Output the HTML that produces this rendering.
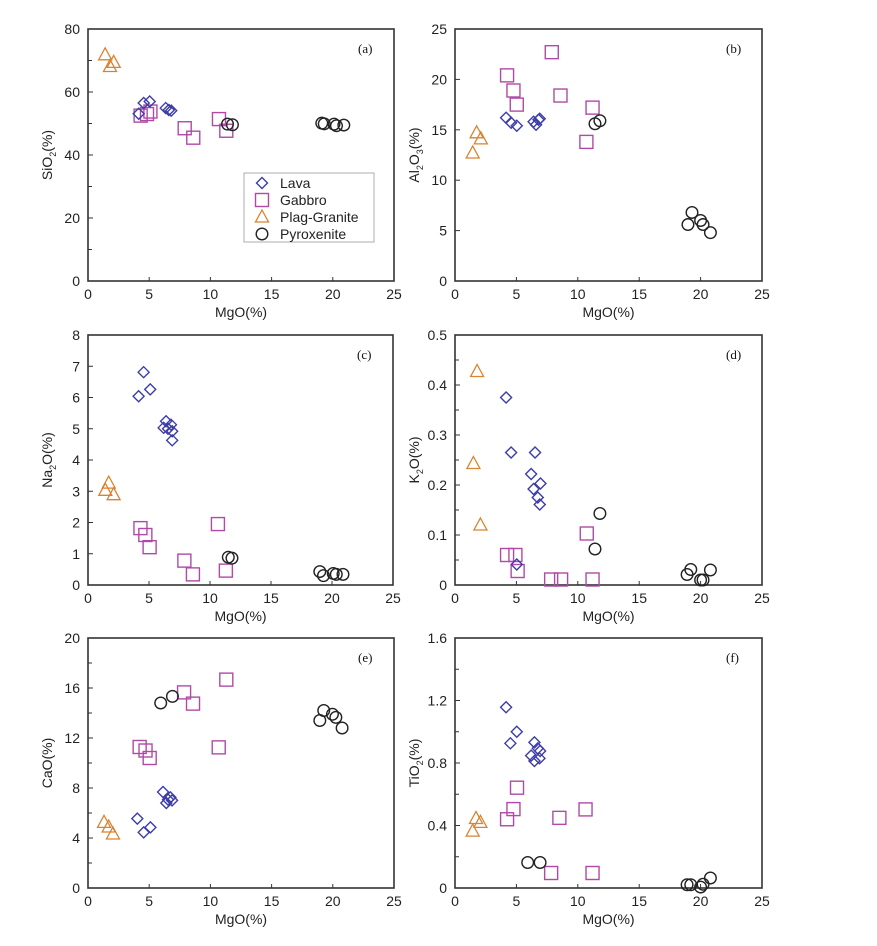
<!DOCTYPE html>
<html><head><meta charset="utf-8"><style>
body{margin:0;background:#fff;}
svg{display:block;font-family:"Liberation Sans",sans-serif;}
</style></head><body>
<svg id="fig" width="877" height="946"></svg>
<script>
// ---- data (MgO x values and oxide y values per panel, per group) ----
const aLavaX=[4.14,4.55,5.04,6.35,6.6,6.8];
const aLavaY=[53.1,56.5,57,54.9,54.3,54.1];
const aGabX=[4.3,4.82,5.1,7.9,8.6,10.7,11.3];
const aGabY=[52.5,53,53.8,48.5,45.5,51.4,47.7];
const aPlagX=[1.4,1.8,2.1];
const aPlagY=[71.8,68.1,69.4];
const aPyrX=[11.4,11.8,19.1,19.3,20.1,20.3,20.9];
const aPyrY=[49.8,49.6,50.1,49.9,49.8,49.3,49.5];

const bLavaX=[4.16,4.57,5.03,6.4,6.6,6.8,6.9];
const bLavaY=[16.2,15.7,15.4,15.8,15.5,16.0,16.1];
const bGabX=[4.24,4.76,5.03,7.88,8.59,10.7,11.2];
const bGabY=[20.4,18.9,17.5,22.7,18.4,13.8,17.2];
const bPlagX=[1.76,2.1,1.44];
const bPlagY=[14.7,14.1,12.7];
const bPyrX=[11.4,11.8,18.97,19.3,20.0,20.2,20.8];
const bPyrY=[15.6,15.9,5.6,6.8,6.0,5.6,4.8];

const cLavaX=[4.15,4.56,5.1,6.2,6.4,6.56,6.8,6.9,6.9];
const cLavaY=[6.04,6.81,6.26,5.03,5.24,5.0,5.13,4.92,4.63];
const cGabX=[4.3,4.7,5.05,7.9,8.6,10.65,11.3];
const cGabY=[1.82,1.6,1.21,0.78,0.34,1.95,0.46];
const cPlagX=[1.7,1.42,2.1];
const cPlagY=[3.26,3.03,2.89];
const cPyrX=[11.5,11.8,19.0,19.3,20.1,20.35,20.9];
const cPyrY=[0.89,0.86,0.43,0.3,0.37,0.34,0.34];

const dLavaX=[4.16,4.57,6.52,6.2,6.4,6.96,6.74,6.9,5.03];
const dLavaY=[0.375,0.265,0.265,0.222,0.192,0.203,0.175,0.161,0.041];
const dGabX=[4.24,4.92,5.1,7.83,8.64,10.73,11.2];
const dGabY=[0.06,0.06,0.028,0.011,0.011,0.103,0.011];
const dPlagX=[1.8,1.5,2.07];
const dPlagY=[0.427,0.243,0.12];
const dPyrX=[11.8,11.4,18.9,19.2,20.0,20.2,20.8];
const dPyrY=[0.143,0.072,0.021,0.031,0.01,0.01,0.03];

const eLavaX=[4.03,4.55,5.1,6.13,6.4,6.54,6.73,6.87];
const eLavaY=[5.55,4.45,4.85,7.68,6.8,7.07,7.25,7.01];
const eGabX=[4.22,4.7,5.04,7.85,8.58,10.68,11.3];
const eGabY=[11.28,11.0,10.4,15.65,14.75,11.25,16.67];
const ePlagX=[1.31,1.69,2.04];
const ePlagY=[5.25,4.88,4.32];
const ePyrX=[5.94,6.9,18.94,19.26,19.97,20.25,20.76];
const ePyrY=[14.8,15.33,13.4,14.2,13.9,13.65,12.8];

const fLavaX=[4.16,4.51,5.03,6.47,6.74,6.93,6.2,6.47,6.88];
const fLavaY=[1.157,0.926,1.0,0.932,0.894,0.877,0.847,0.813,0.83];
const fGabX=[4.24,4.76,5.05,7.83,8.5,10.63,11.2];
const fGabY=[0.44,0.505,0.642,0.096,0.449,0.503,0.096];
const fPlagX=[1.71,2.07,1.44];
const fPlagY=[0.445,0.42,0.364];
const fPyrX=[5.92,6.93,18.9,19.2,20.0,20.2,20.8];
const fPyrY=[0.163,0.163,0.021,0.021,0.006,0.024,0.064];

const xTicks=[0,5,10,15,20,25];
const aTicks=[0,20,40,60,80];
const bTicks=[0,5,10,15,20,25];
const cTicks=[0,1,2,3,4,5,6,7,8];
const dTicks=[0,0.1,0.2,0.3,0.4,0.5];
const eTicks=[0,4,8,12,16,20];
const fTicks=[0,0.4,0.8,1.2,1.6];
const dTickLabels=["0","0.1","0.2","0.3","0.4","0.5"];
const fTickLabels=["0","0.4","0.8","1.2","1.6"];

const NS="http://www.w3.org/2000/svg";
const svg=document.getElementById('fig');
function mk(tag,attrs,parent){const e=document.createElementNS(NS,tag);for(const k in attrs)e.setAttribute(k,attrs[k]);(parent||svg).appendChild(e);return e;}

const COL={lava:"#3d3da8",gab:"#b04aa6",plag:"#d98330",pyr:"#222"};
function marker(g,type,cx,cy){
  let e;
  if(type==='lava'){e=mk('polygon',{points:`${cx},${cy-5.5} ${cx+5.5},${cy} ${cx},${cy+5.5} ${cx-5.5},${cy}`,fill:'none',stroke:COL.lava,'stroke-width':1.4},g);}
  else if(type==='gab'){e=mk('rect',{x:cx-6.5,y:cy-6.5,width:13,height:13,fill:'none',stroke:COL.gab,'stroke-width':1.4},g);}
  else if(type==='plag'){e=mk('polygon',{points:`${cx},${cy-7} ${cx+6.5},${cy+5} ${cx-6.5},${cy+5}`,fill:'none',stroke:COL.plag,'stroke-width':1.3},g);}
  else {e=mk('circle',{cx:cx,cy:cy,r:5.8,fill:'none',stroke:COL.pyr,'stroke-width':1.4},g);}
  return e;
}

function panel(o){
  const g=mk('g',{});
  
  
  const L=o.L,R=o.R,T=o.T,B=o.B;
  const sx=v=>L+(v/25)*(R-L);
  const sy=v=>B-(v/o.ymax)*(B-T);
  const fr=mk('rect',{x:L,y:T,width:R-L,height:B-T,fill:'none',stroke:'#333','stroke-width':1.6},g);
  
  
  o.yt.forEach((v,i)=>{
    const y=sy(v);
    mk('line',{x1:L,x2:L+5,y1:y,y2:y,stroke:'#333'},g);
    const t=mk('text',{x:L-8,y:y+5,'text-anchor':'end','font-size':14,fill:'#222'},g);
    t.textContent=o.yl?o.yl[i]:String(v);
    
    
    if(o.minor&&i<o.yt.length-1){const ym=sy((v+o.yt[i+1])/2);mk('line',{x1:L,x2:L+4,y1:ym,y2:ym,stroke:'#333'},g);}
  });
  xTicks.forEach(v=>{
    const x=sx(v);
    mk('line',{x1:x,x2:x,y1:B,y2:B-4,stroke:'#333'},g);
    const t=mk('text',{x:x,y:B+18,'text-anchor':'middle','font-size':14,fill:'#222'},g);
    t.textContent=String(v);
    
    
  });
  const xt=mk('text',{x:(L+R)/2,y:B+36,'text-anchor':'middle','font-size':14,fill:'#222'},g);
  xt.textContent='MgO(%)';
  
  
  const yt=mk('text',{transform:`translate(${L-36},${(T+B)/2}) rotate(-90)`,'text-anchor':'middle','font-size':14,fill:'#222'},g);
  yt.innerHTML=o.ytitle;
  
  
  const pl=mk('text',{x:R-36,y:T+24,'font-size':13,'font-family':'Liberation Serif, serif',fill:'#111'},g);
  pl.textContent='('+o.id+')';
  
  
  o.series.forEach(s=>{
    s.x.forEach((xv,i)=>{
      const m=marker(g,s.type,sx(xv),sy(s.y[i]));
      
      
    });
  });
  return g;
}
function ser(lx,ly,gx,gy,px,py,rx,ry){return [{type:'gab',x:gx,y:gy},{type:'lava',x:lx,y:ly},{type:'plag',x:px,y:py},{type:'pyr',x:rx,y:ry}];}

panel({id:'a',L:88,R:394,T:29,B:281,ymax:80,yt:aTicks,minor:true,ytitle:'SiO<tspan font-size="9" dy="4">2</tspan><tspan dy="-4">(%)</tspan>',series:ser(aLavaX,aLavaY,aGabX,aGabY,aPlagX,aPlagY,aPyrX,aPyrY)});
panel({id:'b',L:455,R:762,T:29,B:281,ymax:25,yt:bTicks,minor:false,ytitle:'Al<tspan font-size="9" dy="4">2</tspan><tspan dy="-4">O</tspan><tspan font-size="9" dy="4">3</tspan><tspan dy="-4">(%)</tspan>',series:ser(bLavaX,bLavaY,bGabX,bGabY,bPlagX,bPlagY,bPyrX,bPyrY)});
panel({id:'c',L:88,R:393,T:335,B:585,ymax:8,yt:cTicks,minor:false,ytitle:'Na<tspan font-size="9" dy="4">2</tspan><tspan dy="-4">O(%)</tspan>',series:ser(cLavaX,cLavaY,cGabX,cGabY,cPlagX,cPlagY,cPyrX,cPyrY)});
panel({id:'d',L:455,R:762,T:335,B:585,ymax:0.5,yt:dTicks,yl:dTickLabels,minor:true,ytitle:'K<tspan font-size="9" dy="4">2</tspan><tspan dy="-4">O(%)</tspan>',series:ser(dLavaX,dLavaY,dGabX,dGabY,dPlagX,dPlagY,dPyrX,dPyrY)});
panel({id:'e',L:88,R:394,T:638,B:888,ymax:20,yt:eTicks,minor:true,ytitle:'CaO(%)',series:ser(eLavaX,eLavaY,eGabX,eGabY,ePlagX,ePlagY,ePyrX,ePyrY)});
panel({id:'f',L:455,R:762,T:638,B:888,ymax:1.6,yt:fTicks,yl:fTickLabels,minor:true,ytitle:'TiO<tspan font-size="9" dy="4">2</tspan><tspan dy="-4">(%)</tspan>',series:ser(fLavaX,fLavaY,fGabX,fGabY,fPlagX,fPlagY,fPyrX,fPyrY)});

const lg=mk('g',{});


mk('rect',{x:244,y:173,width:130,height:69,fill:'#fff',stroke:'#999','stroke-width':0.8},lg);
const legItems=[['lava','Lava'],['gab','Gabbro'],['plag','Plag-Granite'],['pyr','Pyroxenite']];
legItems.forEach((it,i)=>{
  const y=183+i*17;
  const m=marker(lg,it[0],262,y);
  
  
  const t=mk('text',{x:280,y:y+5,'font-size':14,fill:'#222'},lg);
  t.textContent=it[1];
  
  
});
</script>
</body></html>
